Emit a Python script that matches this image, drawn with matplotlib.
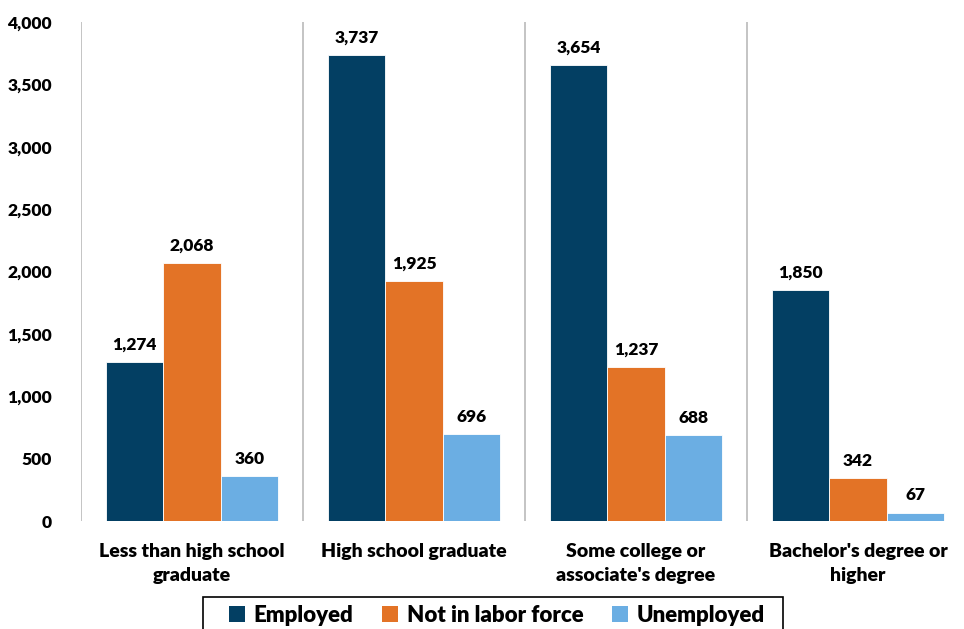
import matplotlib
matplotlib.use("Agg")
import matplotlib.pyplot as plt
from matplotlib.patches import Patch, Rectangle

plt.rcParams['font.family'] = ['Lato', 'DejaVu Sans']

categories = ["Less than high school\ngraduate", "High school graduate",
              "Some college or\nassociate's degree", "Bachelor's degree or\nhigher"]
series_names = ["Employed", "Not in labor force", "Unemployed"]
employed = [1274, 3737, 3654, 1850]
not_in_lf = [2068, 1925, 1237, 342]
unemployed = [360, 696, 688, 67]
colors = ["#033F63", "#E37326", "#6BAEE3"]
weight = "heavy"

W, H = 964, 629
fig = plt.figure(figsize=(W / 100, H / 100), dpi=100)
# axes box in pixels: left 81, right 964, top 22, bottom 521
ax = fig.add_axes([81 / W, 1 - 521 / H, (W - 81) / W, (521 - 22) / H])

gw = 222.0
bw = 57.5 / gw
data = [employed, not_in_lf, unemployed]
for i, (vals, c) in enumerate(zip(data, colors)):
    xs = [g + (i - 1) * bw for g in range(len(categories))]
    ax.bar(xs, vals, width=bw, color=c, edgecolor="white", linewidth=0.6, zorder=3)
    for x, v in zip(xs, vals):
        ax.text(x, v + 75, f"{v:,}", ha="center", va="bottom",
                fontsize=12.5, fontweight=weight, color="black")

# separators between groups
ax.vlines([-0.5, 0.5, 1.5, 2.5], 0, 4000, color="#BFBFBF", linewidth=1.3, zorder=1)

ax.set_xlim(-0.5, 3.5 - 5 / gw)
ax.set_ylim(0, 4000)
ax.set_yticks(range(0, 4001, 500))
ax.set_yticklabels([f"{v:,}" for v in range(0, 4001, 500)],
                   fontsize=12.5, fontweight=weight)
ax.set_xticks(range(len(categories)))
ax.set_xticklabels(categories, fontsize=14, fontweight=weight, linespacing=1.45)
ax.tick_params(axis="y", length=0, pad=21)
ax.tick_params(axis="x", length=0, pad=16)
for s in ax.spines.values():
    s.set_visible(False)

handles = [Patch(facecolor=c, edgecolor="none") for c in colors]
leg = fig.legend(handles, series_names, loc="center",
                 bbox_to_anchor=(497 / W, 1 - 615 / H), ncol=3, frameon=False,
                 prop={"weight": weight, "size": 16},
                 handlelength=0.7, handleheight=0.7, handletextpad=0.4,
                 columnspacing=1.3, borderpad=0, borderaxespad=0)
# legend box runs off the bottom edge
fig.patches.append(Rectangle((203 / W, -0.05), 580 / W, 0.05 + 1 - 597 / H,
                             transform=fig.transFigure, fill=False,
                             edgecolor="black", linewidth=1.2))

fig.savefig("out.png", dpi=100)
